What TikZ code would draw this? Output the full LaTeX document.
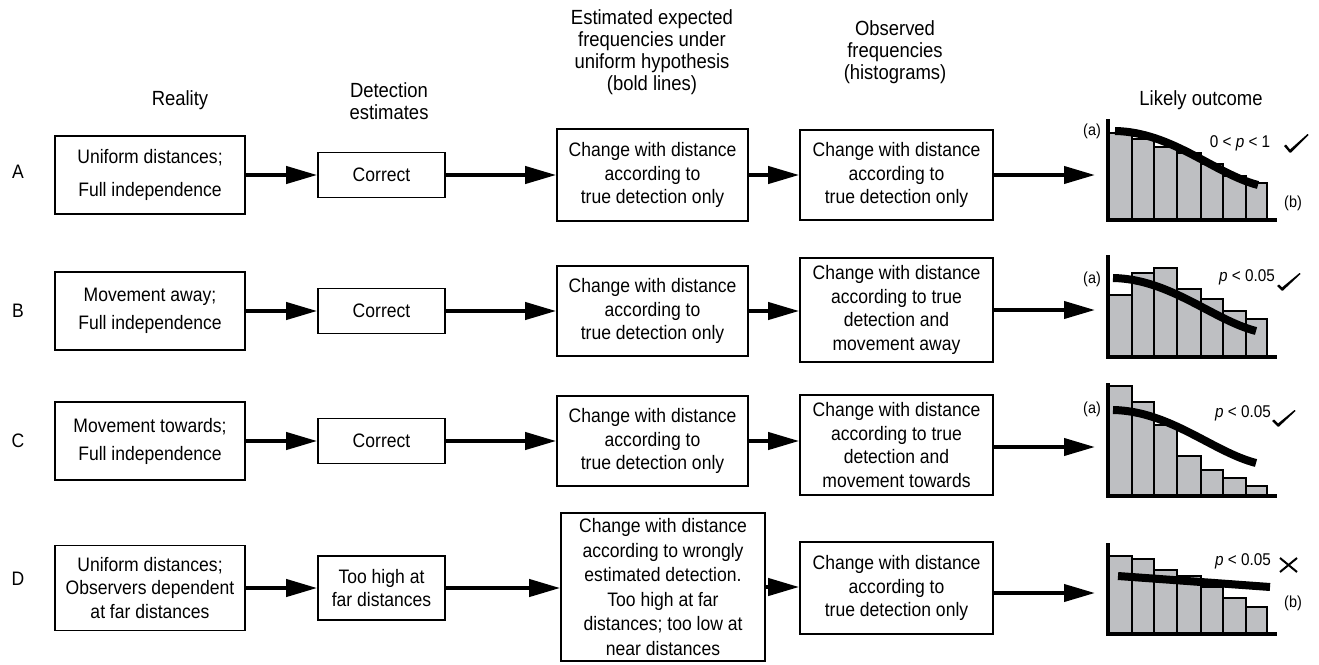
\documentclass[tikz,border=0pt]{standalone}
\usepackage{fontspec}
\setmainfont[FakeStretch=0.9]{Liberation Sans}
\usetikzlibrary{arrows.meta}
\definecolor{barfill}{RGB}{190,191,194}
\begin{document}
\begin{tikzpicture}[x=1pt,y=-1pt,
  txt/.style={font=\fontsize{19.5}{23.5}\selectfont, align=center, inner sep=0pt},
  head/.style={font=\fontsize{20.5}{22}\selectfont, align=center, inner sep=0pt},
  box/.style={txt, draw, line width=1.6pt},
  arr/.style={line width=4pt, -{Triangle[length=31pt,width=17pt]}},
  bar/.style={draw, fill=barfill, line width=1.2pt},
  axis/.style={line width=4pt, line join=miter},
  curve/.style={line width=8pt},
  lab/.style={font=\fontsize{16}{18}\selectfont, inner sep=0pt},
  plab/.style={font=\fontsize{17}{19}\selectfont, inner sep=0pt},
  tick/.style={fill=black, line join=round}]
\useasboundingbox (0,0) rectangle (1319,664);

% headers
\node[head] (h1) at (180,100) {Reality};
\node[head] (h2) at (389,101) {Detection\\estimates};
\node[head] (h3) at (652,52) {Estimated expected\\frequencies under\\uniform hypothesis\\(bold lines)};
\node[head] (h4) at (895,52) {Observed\\frequencies\\(histograms)};
\node[head] (h5) at (1201,100) {Likely outcome};

% row labels
\node[txt] (rA) at (18,172) {A};
\node[txt] (rB) at (18,311) {B};
\node[txt] (rC) at (18,441) {C};
\node[txt] (rD) at (18,579) {D};

% row A
\node[box, minimum width=190pt, minimum height=78pt] (a1) at (150,175) {Uniform distances;\\[9pt]Full independence};
\node[box, minimum width=127pt, minimum height=45pt] (a2) at (381.5,175) {Correct};
\node[box, minimum width=191pt, minimum height=92pt] (a3) at (652.5,175) {Change with distance\\according to\\true detection only};
\node[box, minimum width=193pt, minimum height=90pt] (a4) at (896.5,175) {Change with distance\\according to\\true detection only};
% row B
\node[box, minimum width=190pt, minimum height=78pt] (b1) at (150,311) {Movement away;\\[4.5pt]Full independence};
\node[box, minimum width=127pt, minimum height=45pt] (b2) at (381.5,311) {Correct};
\node[box, minimum width=191pt, minimum height=90pt] (b3) at (652.5,311) {Change with distance\\according to\\true detection only};
\node[box, minimum width=193pt, minimum height=104pt] (b4) at (896.5,310) {Change with distance\\according to true\\detection and\\movement away};
% row C
\node[box, minimum width=190pt, minimum height=78pt] (c1) at (150,441) {Movement towards;\\[4.5pt]Full independence};
\node[box, minimum width=127pt, minimum height=45pt] (c2) at (381.5,441) {Correct};
\node[box, minimum width=191pt, minimum height=90pt] (c3) at (652.5,441) {Change with distance\\according to\\true detection only};
\node[box, minimum width=193pt, minimum height=100pt] (c4) at (896.5,445) {Change with distance\\according to true\\detection and\\movement towards};
% row D
\node[box, minimum width=190pt, minimum height=85pt] (d1) at (150,588) {Uniform distances;\\Observers dependent\\at far distances};
\node[box, minimum width=127pt, minimum height=64pt] (d2) at (381.5,588) {Too high at\\far distances};
\node[box, minimum width=204pt, minimum height=148pt, font=\fontsize{19.5}{24.5}\selectfont] (d3) at (663,587) {Change with distance\\according to wrongly\\estimated detection.\\Too high at far\\distances; too low at\\near distances};
\node[box, minimum width=193pt, minimum height=92pt] (d4) at (896.5,588) {Change with distance\\according to\\true detection only};

% arrow ends at histograms
\coordinate (hA) at (1095,175);
\coordinate (hB) at (1095,310);
\coordinate (hC) at (1095,447);
\coordinate (hD) at (1095,593);

% connectors
\foreach \r in {a,b,c,d}{
  \draw[arr] (\r1.east) -- (\r1.east -| \r2.west);
  \draw[arr] (\r2.east) -- (\r2.east -| \r3.west);
  \draw[arr] (\r3.east) -- (\r3.east -| \r4.west);
}
\draw[arr] (a4.east |- hA) -- (hA);
\draw[arr] (b4.east |- hB) -- (hB);
\draw[arr] (c4.east |- hC) -- (hC);
\draw[arr] (d4.east |- hD) -- (hD);

% histogram A
\foreach \xl/\xr/\t in {1109/1132/133,1132/1154/139,1154/1177/147,1177/1201/153,1201/1223/164,1223/1246/176,1246/1267/183}
  \draw[bar] (\xl,220) rectangle (\xr,\t);
\draw[axis] (1108,119) -- (1108,220) -- (1277,220);
\draw[curve] (1115,131) .. controls (1172,132) and (1215,174) .. (1258,185);
\node[lab] at (1092,131) {(a)};
\node[lab] at (1293,203) {(b)};
\node[plab] at (1240,143) {0 < \textit{p} < 1};
\fill[tick] (1284,146) -- (1286,144.5) -- (1290,149.5) -- (1307.5,134) -- (1308.5,135) -- (1291,152.5) -- (1289.5,152.5) -- cycle;

% histogram B
\foreach \xl/\xr/\t in {1109/1132/295,1132/1154/273,1154/1177/268,1177/1201/289,1201/1223/299,1223/1246/311,1246/1267/319}
  \draw[bar] (\xl,357) rectangle (\xr,\t);
\draw[axis] (1108,255) -- (1108,357) -- (1277,357);
\draw[curve] (1113,278) .. controls (1170,279) and (1213,320) .. (1256,331);
\node[lab] at (1092,279) {(a)};
\node[plab] at (1247,277) {\textit{p} < 0.05};
\fill[tick] (1277,286) -- (1279,284.5) -- (1282,287.5) -- (1299.5,273) -- (1300.5,274) -- (1283,290.5) -- (1281.5,290.5) -- cycle;

% histogram C
\foreach \xl/\xr/\t in {1109/1132/386,1132/1154/402,1154/1177/425,1177/1201/456,1201/1223/470,1223/1246/478,1246/1267/486}
  \draw[bar] (\xl,496) rectangle (\xr,\t);
\draw[axis] (1108,383) -- (1108,496) -- (1277,496);
\draw[curve] (1113,410) .. controls (1170,411) and (1213,452) .. (1256,463);
\node[lab] at (1092,409) {(a)};
\node[plab] at (1243,413) {\textit{p} < 0.05};
\fill[tick] (1272,421) -- (1274,419.5) -- (1278,423.5) -- (1294.5,410) -- (1295.5,411) -- (1279,426.5) -- (1277.5,426.5) -- cycle;

% histogram D
\foreach \xl/\xr/\t in {1109/1132/556,1132/1154/559,1154/1177/570,1177/1201/576,1201/1223/587,1223/1246/598,1246/1267/607}
  \draw[bar] (\xl,634) rectangle (\xr,\t);
\draw[axis] (1108,543) -- (1108,634) -- (1277,634);
\draw[curve] (1118,576) -- (1270,587);
\node[lab] at (1293,603) {(b)};
\node[plab] at (1243,561) {\textit{p} < 0.05};
\draw[line width=2pt] (1280,558) -- (1297,572) (1280,572) -- (1297,558);
\end{tikzpicture}
\end{document}
